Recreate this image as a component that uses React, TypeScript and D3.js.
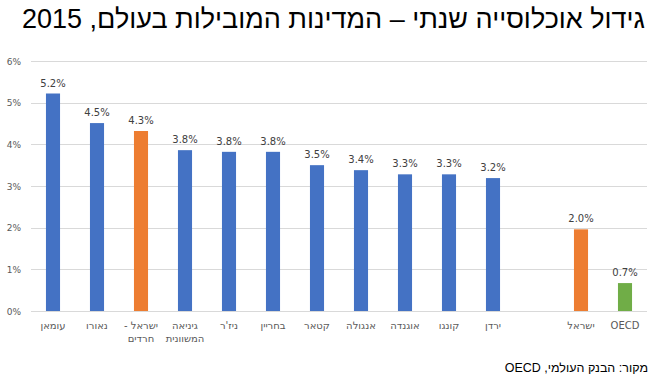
import React from "react";
import * as d3 from "d3";

// categories (drawn left to right as in the source)
const categories = [
  ["עומאן"],
  ["נאורו"],
  ["ישראל -", "חרדים"],
  ["גיניאה", "המשוונית"],
  ["ניז'ר"],
  ["בחריין"],
  ["קטאר"],
  ["אנגולה"],
  ["אוגנדה"],
  ["קונגו"],
  ["ירדן"],
  [""],
  ["ישראל"],
  ["OECD"],
];
const values: (number | null)[] = [
  5.22, 4.51, 4.32, 3.86, 3.82, 3.82, 3.5, 3.38, 3.28, 3.28, 3.19, null, 1.96, 0.67,
];
const labels = [
  "5.2%", "4.5%", "4.3%", "3.8%", "3.8%", "3.8%", "3.5%", "3.4%", "3.3%", "3.3%", "3.2%", "", "2.0%", "0.7%",
];
const groups = [
  "world", "world", "haredi", "world", "world", "world", "world", "world", "world", "world", "world", "", "israel", "oecd",
];
const yTicks = [0, 1, 2, 3, 4, 5, 6];

const colors: Record<string, string> = {
  world: "#4472C4",
  haredi: "#ED7D31",
  israel: "#ED7D31",
  oecd: "#70AD47",
};

export default function App() {
  const width = 655;
  const height = 384;
  const left = 31;
  const right = 647;
  const top = 61;
  const bottom = 311;

  const x = d3
    .scaleBand<number>()
    .domain(d3.range(categories.length))
    .range([left, right])
    .paddingInner(0.68)
    .paddingOuter(0.34);

  const y = d3.scaleLinear().domain([0, 6]).range([bottom, top]);
  const font = "'Liberation Sans', Arial, sans-serif";
  const labelFont = "'DejaVu Sans', 'Liberation Sans', sans-serif";

  return (
    <svg
      width={width}
      height={height}
      style={{ position: "absolute", left: 0, top: 0, background: "#fff" }}
      fontFamily={font}
    >
      <text
        x={645}
        y={28}
        direction="rtl"
        textAnchor="start"
        fontSize={27}
        fill="#000"
      >
        גידול אוכלוסייה שנתי – המדינות המובילות בעולם, 2015
      </text>

      {/* gridlines and y ticks */}
      {yTicks.map((t) => (
        <g key={t}>
          <line
            x1={left}
            x2={right}
            y1={Math.round(y(t)) + 0.5}
            y2={Math.round(y(t)) + 0.5}
            stroke="#d9d9d9"
            strokeWidth={1}
          />
          <text
            x={21}
            y={y(t) + 3.5}
            textAnchor="end"
            fontSize={9}
            fill="#595959"
            fontFamily={labelFont}
          >
            {t}%
          </text>
        </g>
      ))}

      {/* bars */}
      {values.map((v, i) =>
        v == null ? null : (
          <g key={i}>
            <rect
              x={x(i)}
              y={y(v)}
              width={x.bandwidth()}
              height={y(0) - y(v)}
              fill={colors[groups[i]]}
            />
            <text
              x={(x(i) ?? 0) + x.bandwidth() / 2}
              y={y(v) - 7}
              textAnchor="middle"
              fontSize={10}
              fill="#404040"
              fontFamily={labelFont}
            >
              {labels[i]}
            </text>
          </g>
        )
      )}

      {/* category labels */}
      {categories.map((lines, i) =>
        lines.map((l, j) => (
          <text
            key={`${i}-${j}`}
            x={(x(i) ?? 0) + x.bandwidth() / 2}
            y={329 + j * 13}
            textAnchor="middle"
            direction="rtl"
            fontSize={10}
            fill="#595959"
            fontFamily={labelFont}
          >
            {l}
          </text>
        ))
      )}

      <text
        x={648}
        y={372}
        direction="rtl"
        textAnchor="start"
        fontSize={12.5}
        fill="#000"
      >
        מקור: הבנק העולמי, OECD
      </text>
    </svg>
  );
}
